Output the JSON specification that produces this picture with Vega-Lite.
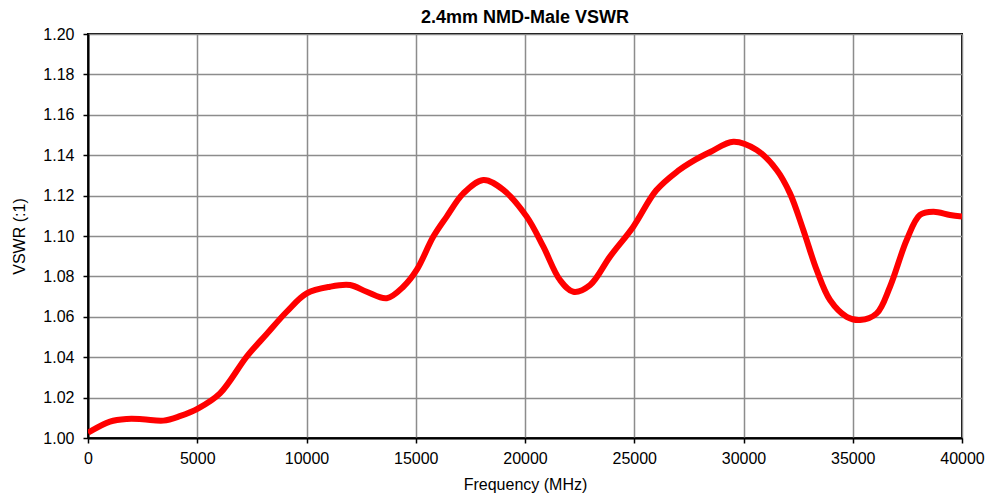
{
  "$schema": "https://vega.github.io/schema/vega-lite/v6.json",
  "autosize": {"type": "none"},
  "width": 874,
  "height": 404,
  "padding": {"left": 88, "top": 34, "right": 25, "bottom": 58},
  "background": "white",
  "title": {"text": "2.4mm NMD-Male VSWR", "font": "Liberation Sans", "fontSize": 18, "fontWeight": "bold", "color": "black", "offset": -1, "anchor": "middle"},
  "config": {
    "view": {"stroke": "black", "strokeWidth": 2},
    "axis": {"labelFont": "Liberation Sans", "titleFont": "Liberation Sans", "labelFontSize": 16, "titleFontSize": 16, "titleFontWeight": "normal", "labelColor": "black", "titleColor": "black", "domainColor": "black", "domainWidth": 2, "tickColor": "black", "tickWidth": 1.5, "tickSize": 5, "gridColor": "#8c8c8c", "gridWidth": 1.5, "gridOpacity": 1, "labelFlush": false, "labelOverlap": false}
  },
  "data": {"values": [
    {"f": 0, "v": 1.0026},
    {"f": 1007, "v": 1.0081},
    {"f": 1771, "v": 1.0094},
    {"f": 2500, "v": 1.0093},
    {"f": 3447, "v": 1.0086},
    {"f": 4200, "v": 1.0108},
    {"f": 5048, "v": 1.0147},
    {"f": 6041, "v": 1.0221},
    {"f": 7263, "v": 1.0403},
    {"f": 8178, "v": 1.0515},
    {"f": 9093, "v": 1.0625},
    {"f": 10009, "v": 1.0716},
    {"f": 11075, "v": 1.0749},
    {"f": 11991, "v": 1.0757},
    {"f": 12754, "v": 1.0724},
    {"f": 13670, "v": 1.0692},
    {"f": 14431, "v": 1.0749},
    {"f": 15043, "v": 1.0832},
    {"f": 15805, "v": 1.0997},
    {"f": 16416, "v": 1.1096},
    {"f": 17178, "v": 1.1211},
    {"f": 18093, "v": 1.1277},
    {"f": 19009, "v": 1.1228},
    {"f": 20078, "v": 1.1096},
    {"f": 20840, "v": 1.0947},
    {"f": 21602, "v": 1.0782},
    {"f": 22212, "v": 1.0724},
    {"f": 22975, "v": 1.0757},
    {"f": 23890, "v": 1.0898},
    {"f": 24957, "v": 1.1046},
    {"f": 26000, "v": 1.1225},
    {"f": 27000, "v": 1.1322},
    {"f": 27703, "v": 1.1372},
    {"f": 28500, "v": 1.1417},
    {"f": 29534, "v": 1.1467},
    {"f": 30604, "v": 1.1426},
    {"f": 31520, "v": 1.1327},
    {"f": 32128, "v": 1.1211},
    {"f": 32737, "v": 1.103},
    {"f": 33348, "v": 1.0832},
    {"f": 33959, "v": 1.0683},
    {"f": 34723, "v": 1.06},
    {"f": 35332, "v": 1.0584},
    {"f": 36096, "v": 1.0617},
    {"f": 36705, "v": 1.0749},
    {"f": 37468, "v": 1.098},
    {"f": 38078, "v": 1.1104},
    {"f": 38687, "v": 1.112},
    {"f": 39451, "v": 1.1104},
    {"f": 40000, "v": 1.1096}
  ]},
  "mark": {"type": "line", "color": "#ff0000", "strokeWidth": 6, "interpolate": "catmull-rom", "clip": true},
  "encoding": {
    "x": {"field": "f", "type": "quantitative", "title": "Frequency (MHz)",
      "scale": {"domain": [0, 40000], "nice": false, "zero": false},
      "axis": {"values": [0, 5000, 10000, 15000, 20000, 25000, 30000, 35000, 40000], "format": "d", "labelPadding": 7, "titlePadding": 10}},
    "y": {"field": "v", "type": "quantitative", "title": "VSWR (:1)",
      "scale": {"domain": [1.0, 1.2], "nice": false, "zero": false},
      "axis": {"values": [1.0, 1.02, 1.04, 1.06, 1.08, 1.1, 1.12, 1.14, 1.16, 1.18, 1.2], "format": ".2f", "labelPadding": 9, "titlePadding": 15}}
  }
}
